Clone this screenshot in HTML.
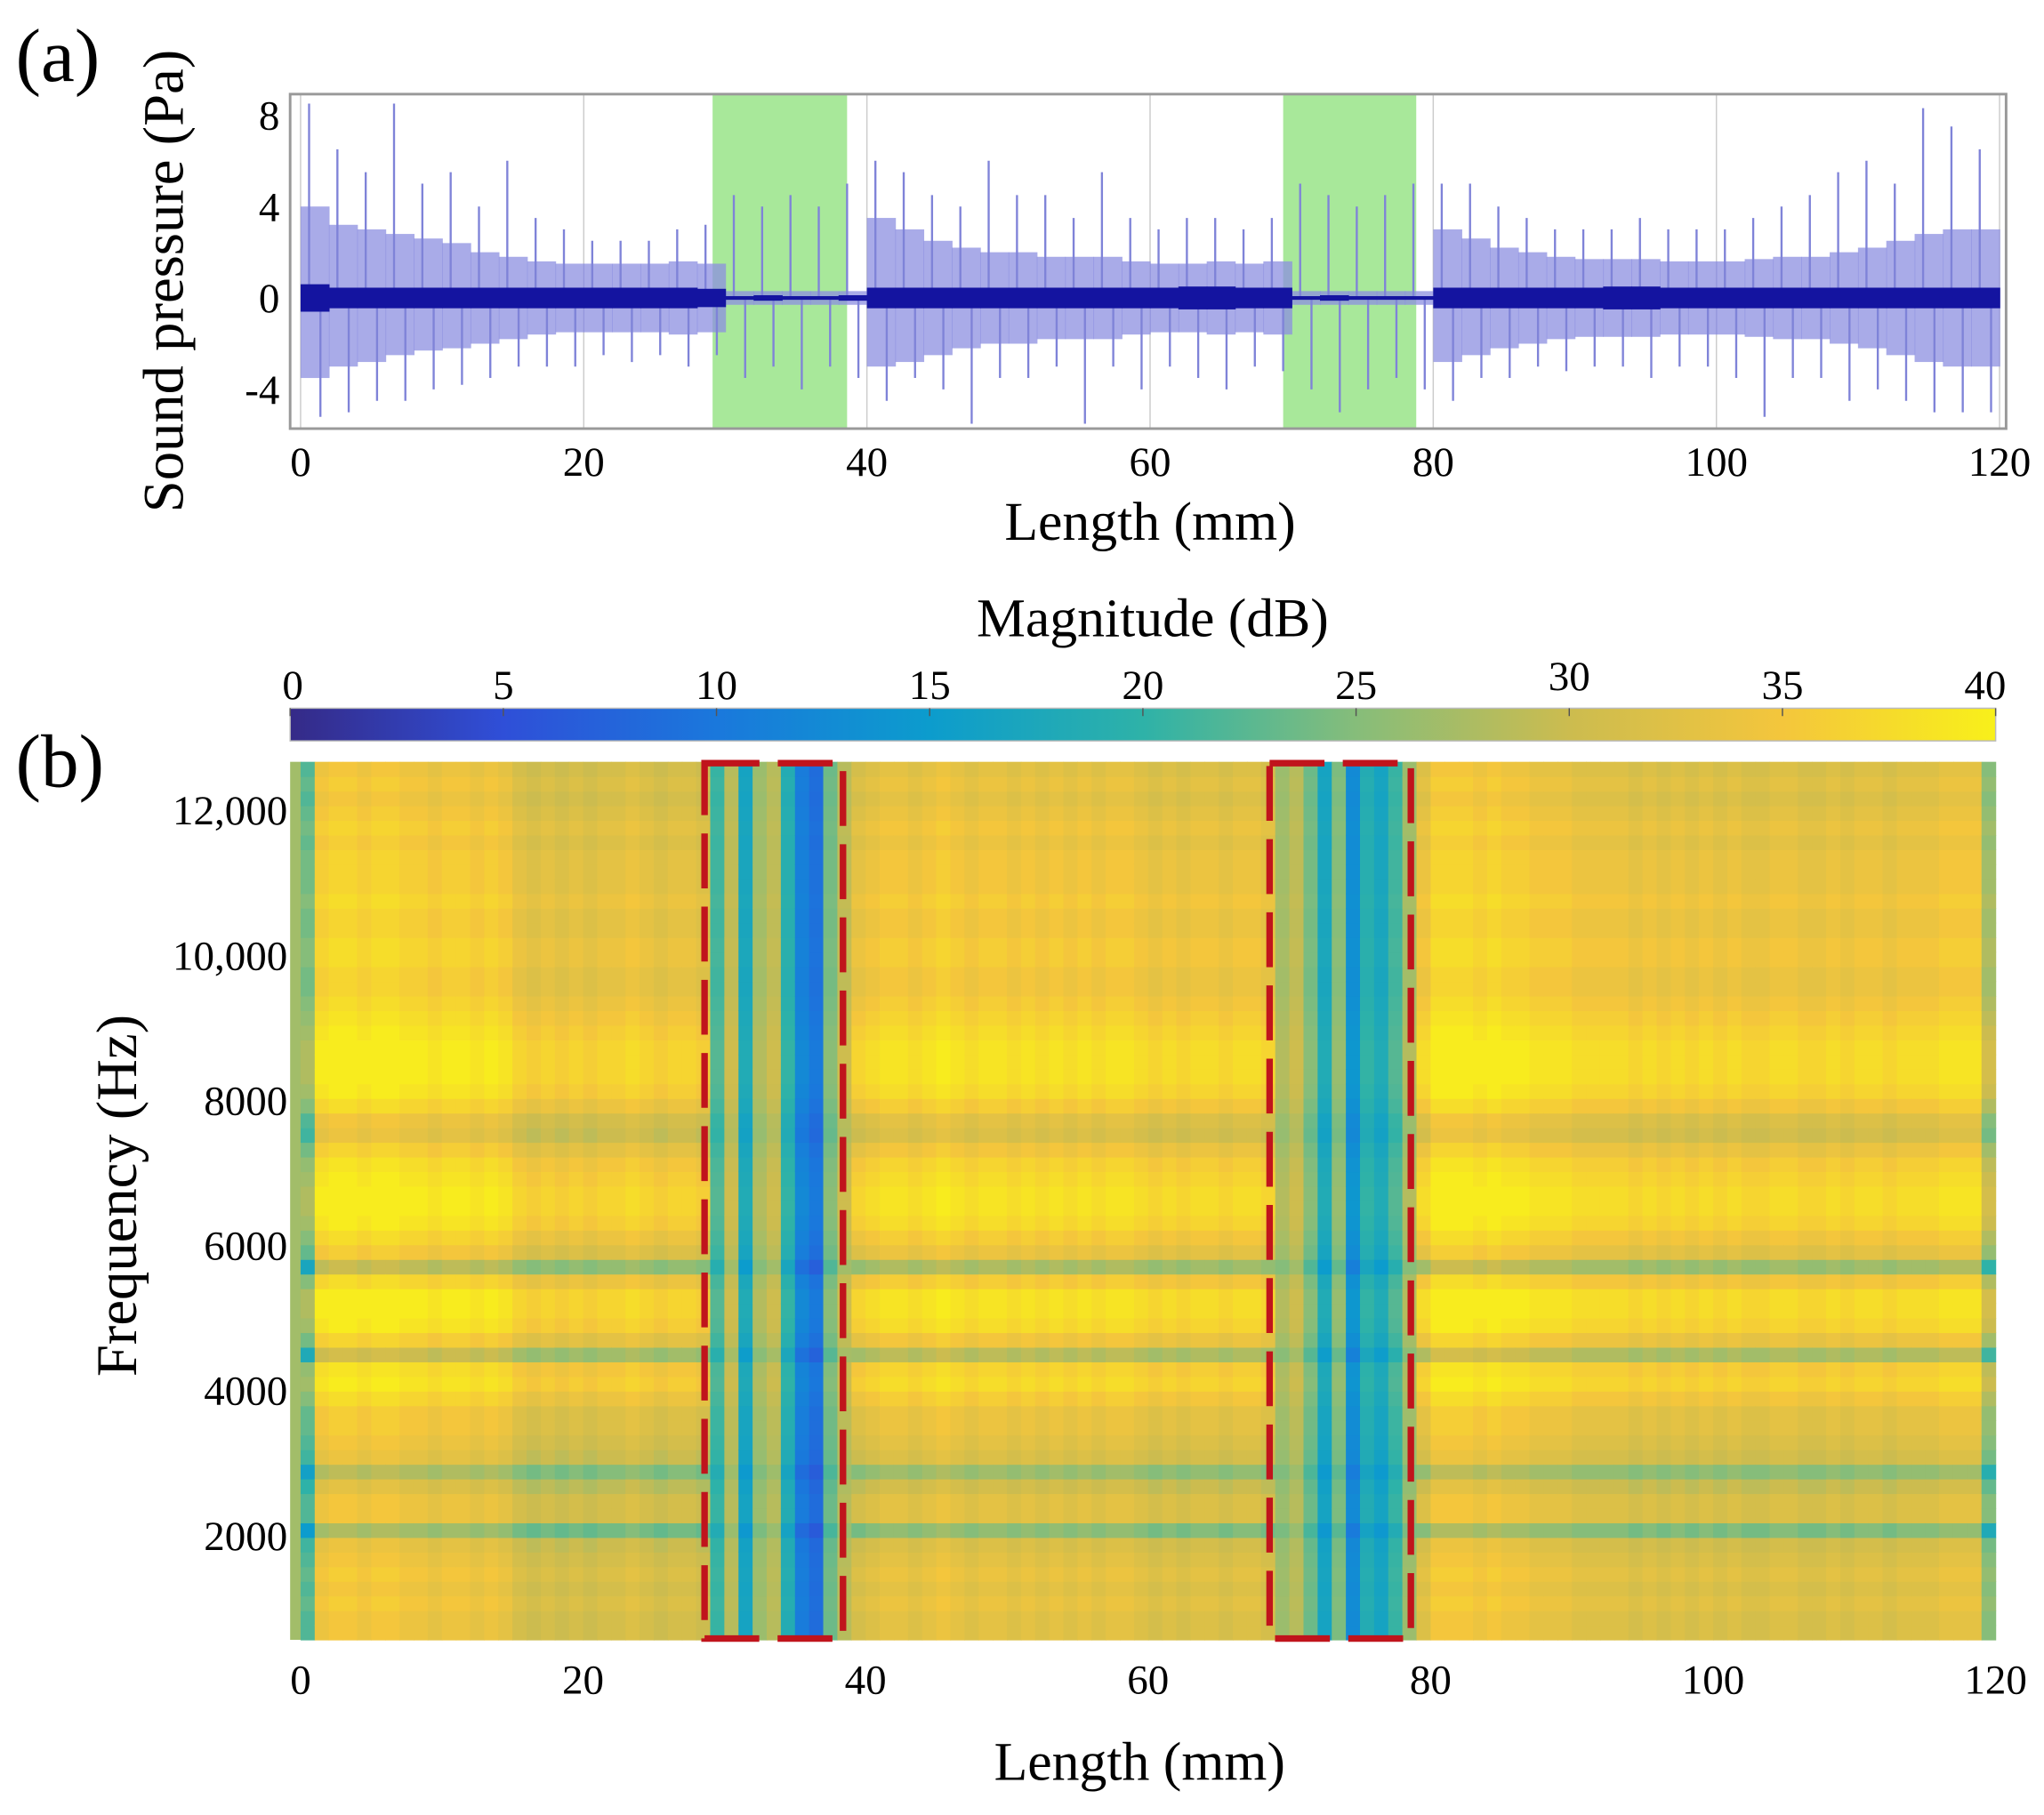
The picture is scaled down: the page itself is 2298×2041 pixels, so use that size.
<!DOCTYPE html>
<html><head><meta charset="utf-8"><style>
html,body{margin:0;padding:0;background:#fff;}
svg{display:block;font-family:"Liberation Serif",serif;}
</style></head><body>
<svg id="fig" width="2298" height="2041" viewBox="0 0 1564 1389" xmlns="http://www.w3.org/2000/svg">
<defs>
<linearGradient id="parula" x1="0" x2="1" y1="0" y2="0">
<stop offset="0" stop-color="#352a87"/><stop offset="0.125" stop-color="#2f4fd8"/><stop offset="0.25" stop-color="#1a78dc"/><stop offset="0.375" stop-color="#0c9ccd"/><stop offset="0.5" stop-color="#2eb2a8"/><stop offset="0.625" stop-color="#86bd7a"/><stop offset="0.75" stop-color="#ccbc4f"/><stop offset="0.875" stop-color="#f4c63c"/><stop offset="1" stop-color="#f8f01a"/>
</linearGradient>
</defs>
<g id="topPanel"></g>
<g id="botPanel"></g>
</svg>
<script>
// ---- Panel (a) data: per 2 mm bins ----
const binStarts = [0,2,4,6,8,10,12,14,16,18,20,22,24,26,28,30,32,34,36,38,40,42,44,46,48,50,52,54,56,58,60,62,64,66,68,70,72,74,76,78,80,82,84,86,88,90,92,94,96,98,100,102,104,106,108,110,112,114,116,118];
const peakPos = [8.5,6.5,5.5,8.5,5,5.5,4,6,3.5,3,2.5,2.5,2.5,3,3.2, 4.5,4,4.5,4,5, 6,5.5,4.5,4,6,4.5,4.5,3.5,5.5,3.5, 3,3.5,3.5,3,3.5, 5,4.5,4,4.5,5, 5,5,4,3.5,3,3,3,3.5,3,3,3,3.5,4,4.5,5.5,6,5,8.3,7.5,6.5];
const peakNeg = [-5.2,-5,-4.5,-4.5,-4,-3.8,-3.5,-3,-3,-3,-2.5,-2.8,-2.5,-3,-2.5, -3.5,-3,-4,-3,-3.5, -4.5,-3.5,-4,-5.5,-3.5,-3.5,-3,-5.5,-3,-4, -3,-3.5,-4,-3,-3.2, -4,-5,-4,-3.5,-4, -4.5,-3.5,-3.5,-3,-3.2,-3,-3,-3.5,-3,-3,-3.5,-5.2,-3.5,-3.5,-4.5,-4,-4.5,-5,-5,-5];
const bulkPos = [4,3.2,3,2.8,2.6,2.4,2,1.8,1.6,1.5,1.5,1.5,1.5,1.6,1.5, 0.3,0.3,0.3,0.3,0.3, 3.5,3,2.5,2.2,2,2,1.8,1.8,1.8,1.6, 1.5,1.5,1.6,1.5,1.6, 0.3,0.3,0.3,0.3,0.3, 3,2.6,2.2,2,1.8,1.7,1.7,1.7,1.6,1.6,1.6,1.7,1.8,1.8,2,2.2,2.5,2.8,3,3];
const bulkNeg = [-3.5,-3,-2.8,-2.5,-2.3,-2.2,-2,-1.8,-1.6,-1.5,-1.5,-1.5,-1.5,-1.6,-1.5, -0.3,-0.3,-0.3,-0.3,-0.3, -3,-2.8,-2.5,-2.2,-2,-2,-1.8,-1.8,-1.8,-1.6, -1.5,-1.5,-1.6,-1.5,-1.6, -0.3,-0.3,-0.3,-0.3,-0.3, -2.8,-2.5,-2.2,-2,-1.8,-1.7,-1.7,-1.7,-1.6,-1.6,-1.6,-1.7,-1.8,-1.8,-2,-2.2,-2.5,-2.8,-3,-3];
const coreAmp = [0.6,0.45,0.45,0.45,0.45,0.45,0.45,0.45,0.45,0.45,0.45,0.45,0.45,0.45,0.4, 0.08,0.12,0.08,0.08,0.12, 0.45,0.45,0.45,0.45,0.45,0.45,0.45,0.45,0.45,0.45, 0.45,0.5,0.5,0.45,0.45, 0.08,0.12,0.08,0.08,0.08, 0.45,0.45,0.45,0.45,0.45,0.45,0.5,0.5,0.45,0.45,0.45,0.45,0.45,0.45,0.45,0.45,0.45,0.45,0.45,0.45];
const greenSpans = [[29.1,38.6],[69.4,78.8]];
const topXTicks = [0,20,40,60,80,100,120];
const topYTicks = [8,4,0,-4];

// ---- Panel (b) data (per 1 mm column) ----
const colLevel = [27,39,40,40,39,40,40,39,39,38,39,39,38,39,38, 36,35,36,35,36,35,36,36,37,36,35,36,36,35,
 22,30,18,28,30,20,12,10,25,30,
 36,37,38,38,37,38,39,38,37,38,38,37,38,37,38,37,38,37,38,38,37,36,37,36,37,37,36,37,37,36,
 28,30,25,18,26,14,20,18,22,28,
 37,40,40,40,39,40,39,39,38,38,38,37,37,37,37,36,37,36,37,36,37,36,37,36,36,37,37,36,36,37,36,37,37,36,37,37,37,38,38,38,30];
const rowOffset = [-5,-5,-4,-5,-4,-5,-6,-12,-5,-5,-7,-11,-6,-5,-4,-4,-2,0,-1,-9,-3,0,1,1,-2,-10,-4,-2,0,1,1,0,-1,-3,-6,-5,-2,0,1,1,1,0,-1,-2,-3,-3,-2,-2,-3,-3,-2,-3,-3,-3,-4,-3,-4,-5,-4,-5];
const gapCols = [[29,38],[69,78]];
const freqMin = 560, freqMax = 12667;
const botXTicks = [0,20,40,60,80,100,120];
const botYTicks = [2000,4000,6000,8000,10000,12000];
const botYTickLabels = ["2000","4000","6000","8000","10,000","12,000"];
const cbTicks = [0,5,10,15,20,25,30,35,40];
const redBoxes = [[28.6,38.4],[68.6,78.6]];

const NS="http://www.w3.org/2000/svg";
function mk(parent,tag,attrs,text){const el=document.createElementNS(NS,tag);for(const k in attrs)el.setAttribute(k,attrs[k]);if(text!==undefined)el.textContent=text;parent.appendChild(el);return el;}

// ===== Panel (a) =====
const topG=document.getElementById('topPanel');
const ax={l:222,r:1535,t:72,b:328};
const xT=v=>230+v*(1300/120);
const yT=v=>228-v*17.5;
let e;
e=mk(topG,'rect',{x:ax.l,y:ax.t,width:ax.r-ax.l,height:ax.b-ax.t,fill:'#fff'});


greenSpans.forEach(s=>{e=mk(topG,'rect',{x:xT(s[0]),y:ax.t,width:xT(s[1])-xT(s[0]),height:ax.b-ax.t,fill:'#a8e89a'});

});
topXTicks.forEach(v=>{mk(topG,'line',{x1:xT(v),x2:xT(v),y1:ax.t,y2:ax.b,stroke:'#ccc','stroke-width':1});});
for(let i=0;i<binStarts.length;i++){
 e=mk(topG,'rect',{x:xT(binStarts[i]),y:yT(bulkPos[i]),width:xT(binStarts[i]+2)-xT(binStarts[i])+0.5,height:yT(bulkNeg[i])-yT(bulkPos[i]),fill:'#8c8fe0','fill-opacity':0.75});
 
 
}
for(let i=0;i<binStarts.length;i++){
 e=mk(topG,'line',{x1:xT(binStarts[i]+0.6),x2:xT(binStarts[i]+0.6),y1:yT(peakPos[i]),y2:yT(0),stroke:'#7f83d8','stroke-width':1.6});
 
 
 e=mk(topG,'line',{x1:xT(binStarts[i]+1.4),x2:xT(binStarts[i]+1.4),y1:yT(0),y2:yT(peakNeg[i]),stroke:'#7f83d8','stroke-width':1.6});
 
 
 e=mk(topG,'rect',{x:xT(binStarts[i]),y:yT(coreAmp[i]),width:xT(binStarts[i]+2)-xT(binStarts[i])+0.5,height:yT(-coreAmp[i])-yT(coreAmp[i]),fill:'#1414a0'});
 
 
}
e=mk(topG,'rect',{x:ax.l,y:ax.t,width:ax.r-ax.l,height:ax.b-ax.t,fill:'none',stroke:'#999','stroke-width':2});


topXTicks.forEach(v=>{e=mk(topG,'text',{x:xT(v),y:364,'font-size':32,'text-anchor':'middle'},String(v));

});
topYTicks.forEach(v=>{e=mk(topG,'text',{x:214,y:yT(v)+11,'font-size':32,'text-anchor':'end'},String(v));

});
e=mk(topG,'text',{x:880,y:413,'font-size':42,'text-anchor':'middle'},'Length (mm)');


e=mk(topG,'text',{x:0,y:0,'font-size':44,'text-anchor':'middle',transform:'translate(140,215) rotate(-90)'},'Sound pressure (Pa)');


e=mk(topG,'text',{x:12,y:62,'font-size':58},'(a)');



// ===== Panel (b) =====
const botG=document.getElementById('botPanel');
const bx={l:222,r:1527,t:583,b:1255};
const xB=v=>230+v*((bx.r-230)/120);
const yB=f=>bx.b-(f-freqMin)*((bx.b-bx.t)/(freqMax-freqMin));
const stops=[[0,[53,42,135]],[0.125,[47,79,216]],[0.25,[26,120,220]],[0.375,[12,156,205]],[0.5,[46,178,168]],[0.625,[134,189,122]],[0.75,[204,188,79]],[0.875,[244,198,60]],[1,[248,236,30]]];
function cmap(v){let t=Math.max(0,Math.min(1,v/40));for(let i=1;i<stops.length;i++){if(t<=stops[i][0]){const a=stops[i-1],b=stops[i];const u=(t-a[0])/(b[0]-a[0]);return 'rgb('+a[1].map((c,k)=>Math.round(c+(b[1][k]-c)*u)).join(',')+')';}}return 'rgb(248,236,30)';}
const nR=rowOffset.length, df=(freqMax-freqMin)/nR;
// thin left edge strip
e=mk(botG,'rect',{x:bx.l,y:bx.t,width:xB(0)-bx.l+0.4,height:bx.b-bx.t,fill:cmap(colLevel[0])});


for(let c=0;c<colLevel.length;c++){
 const gap=gapCols.some(g=>c>=g[0]&&c<=g[1]);
 for(let r=0;r<nR;r++){
  const v=colLevel[c]+(gap?rowOffset[r]*0.3:rowOffset[r]);
  const y0=yB(freqMin+(r+1)*df), y1=yB(freqMin+r*df);
  e=mk(botG,'rect',{x:xB(c),y:y0,width:xB(c+1)-xB(c)+0.4,height:y1-y0+0.4,fill:cmap(v)});
  
  
 }
}
redBoxes.forEach(s=>{e=mk(botG,'rect',{x:xB(s[0]),y:bx.t+1,width:xB(s[1])-xB(s[0]),height:bx.b-bx.t-2,fill:'none',stroke:'#c0141c','stroke-width':5,'stroke-dasharray':'42,14'});

});
botXTicks.forEach(v=>{e=mk(botG,'text',{x:xB(v),y:1296,'font-size':32,'text-anchor':'middle'},String(v));

});
botYTicks.forEach((v,i)=>{e=mk(botG,'text',{x:220,y:yB(v)+11,'font-size':32,'text-anchor':'end'},botYTickLabels[i]);

});
e=mk(botG,'text',{x:872,y:1362,'font-size':42,'text-anchor':'middle'},'Length (mm)');


e=mk(botG,'text',{x:0,y:0,'font-size':44,'text-anchor':'middle',transform:'translate(104,915) rotate(-90)'},'Frequency (Hz)');


e=mk(botG,'text',{x:12,y:602,'font-size':58},'(b)');


const cbx=v=>222+v*((1527-222)/40);
e=mk(botG,'rect',{x:222,y:542,width:1305,height:25,fill:'url(#parula)',stroke:'#bbb','stroke-width':1});


cbTicks.forEach(v=>{mk(botG,'line',{x1:cbx(v),x2:cbx(v),y1:542,y2:548,stroke:'#555','stroke-width':1});
e=mk(botG,'text',{x:cbx(v)+(v===0?2:v===40?-8:0),y:v===30?528:535,'font-size':32,'text-anchor':'middle'},String(v));

});
e=mk(botG,'text',{x:882,y:487,'font-size':42,'text-anchor':'middle'},'Magnitude (dB)');


</script>
</body></html>
